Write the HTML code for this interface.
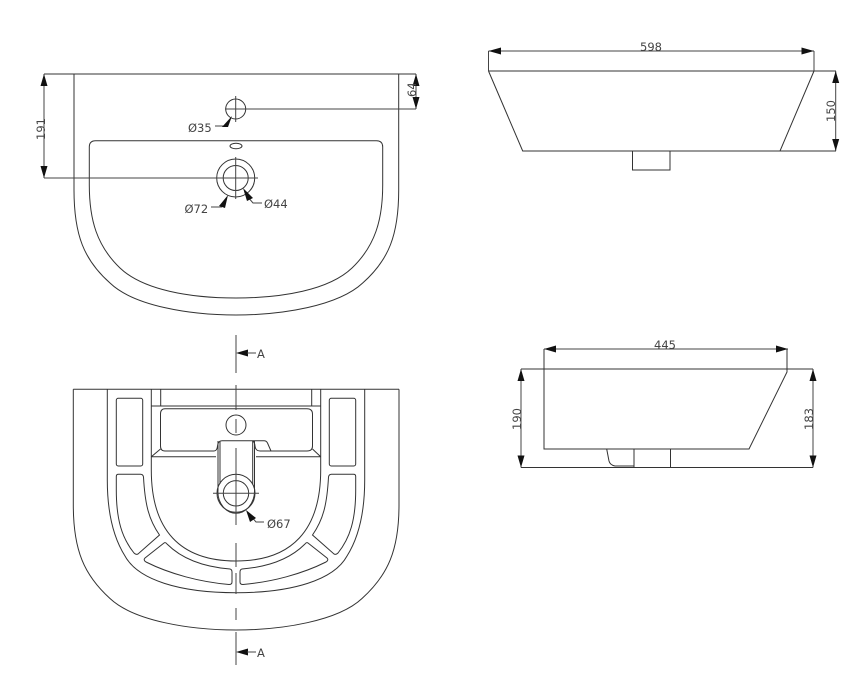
<!DOCTYPE html>
<html><head><meta charset="utf-8"><style>
html,body{margin:0;padding:0;background:#fff}
svg{display:block}
.l{fill:none;stroke:#333;stroke-width:1}
.d{fill:none;stroke:#444;stroke-width:1}
.a{fill:#111;stroke:none}
text{font-family:"DejaVu Sans",sans-serif;font-size:11.5px;fill:#444}
</style></head><body>
<svg width="866" height="681" viewBox="0 0 866 681" xmlns="http://www.w3.org/2000/svg">
<!-- TOP VIEW -->
<path class="l" d="M44 74H416"/>
<path class="l" d="M74 74V190C74 235 84 260 110 283C134 306 190 315 236 315C282 315 338 306 362.700 283C388.700 260 398.700 235 398.700 190V74"/>
<path class="l" d="M95.500 140.700H376.500Q382.700 140.700 382.700 147V185C382.700 220 375 246 352 268C329 290 282 298 236 298C190 298 143 290 120 268C97 246 89.300 220 89.300 185V147Q89.300 140.700 95.500 140.700Z"/>
<ellipse class="l" cx="236" cy="146" rx="6" ry="2.800"/>
<circle class="l" cx="235.700" cy="109" r="10"/>
<path class="d" d="M235.700 96V122M225 109H416"/>
<circle class="l" cx="235.700" cy="178" r="19"/>
<circle class="l" cx="235.700" cy="178" r="12.500"/>
<path class="d" d="M44 178H258M235.700 157V199"/>
<path class="d" d="M44 74V178M416 74V109"/>
<path class="a" d="M44 74L40.500 86H47.500ZM44 178L40.500 166H47.500ZM416 74L412.500 86H419.500ZM416 109L412.500 97H419.500Z"/>
<text transform="translate(45,140) rotate(-90)">191</text>
<text transform="translate(416,97) rotate(-90)">64</text>
<path class="d" d="M215 126H225"/>
<path class="a" d="M232 116L228 127H222Z"/>
<text x="188" y="132">Ø35</text>
<path class="d" d="M211 207H222"/>
<path class="a" d="M228 195L225 208L219 206Z"/>
<text x="184.500" y="213">Ø72</text>
<path class="d" d="M262 203H253L247 196"/>
<path class="a" d="M243 188L253 198L247 201Z"/>
<text x="264" y="208">Ø44</text>
<!-- BOTTOM VIEW -->
<path class="l" d="M73.300 389.300H399"/>
<path class="l" d="M73.300 389.300V505C73.300 550 84 575 110 598.500C134 621 190 630 236 630C282 630 338 621 362 598.500C388 575 399 550 399 505V389.300"/>
<path class="l" d="M107.300 389.300V480C107.300 510 113 537 125 556C138 580 180 592.700 236 592.700C292 592.700 334 580 347 556C359 537 364.700 510 364.700 480V389.300"/>
<path class="l" d="M151.300 389.300V470C151.300 530 180 561 236 561C292 561 320.700 530 320.700 470V389.300"/>
<path class="l" d="M160.700 389.300V406M311.700 389.300V406M151.300 406H320.700"/>
<path class="l" d="M214 451H165Q160.500 451 160.500 446V414Q160.500 408.700 165 408.700H307Q312.500 408.700 312.500 414V446Q312.500 451 307 451H271"/>
<path class="l" d="M151.300 456.700H216M256 456.700H320.700M151.300 456.700L160.500 449M320.700 456.700L312.500 449"/>
<path class="l" d="M214 451Q217 451 217.500 446Q218 440.700 222 440.700H264Q266.500 440.700 267.500 443L271 451H260Q255.500 451 255 446Q254.500 441 252 440.700"/>
<rect class="l" x="116.300" y="398.300" width="26.400" height="67.700" rx="2"/>
<path class="l" d="M118.500 474.300H140.500Q143 474.300 143.500 477C145 505 149 520 159.500 535L138 554Q136 555 134 553C122 538 116.300 520 116.300 490V476.500Q116.300 474.300 118.500 474.300Z"/>
<path class="l" d="M164 543Q165.500 542 167 544C183 560 205 567 230 569Q232 569.500 232 572V582Q232 584.500 229 584.500C200 582 170 574 146 562Q143 560 145 558Z"/>
<g transform="translate(472,0) scale(-1,1)">
<rect class="l" x="116.300" y="398.300" width="26.400" height="67.700" rx="2"/>
<path class="l" d="M118.500 474.300H140.500Q143 474.300 143.500 477C145 505 149 520 159.500 535L138 554Q136 555 134 553C122 538 116.300 520 116.300 490V476.500Q116.300 474.300 118.500 474.300Z"/>
<path class="l" d="M164 543Q165.500 542 167 544C183 560 205 567 230 569Q232 569.500 232 572V582Q232 584.500 229 584.500C200 582 170 574 146 562Q143 560 145 558Z"/>
</g>
<circle class="l" cx="236" cy="425" r="10"/>
<path class="l" d="M218 441V490M220 441V484M254.500 441V490M252.700 441V484"/>
<path class="l" d="M218 490C217 503 226 513.300 236 513.300C246 513.300 255 503 254.500 490"/>
<circle class="l" cx="236" cy="493.300" r="19"/>
<circle class="l" cx="236" cy="493.300" r="12.700"/>
<path class="d" d="M213 493.300H259"/>
<path class="d" d="M236 335V373M236 385V410M236 419V433M236 448V525M236 543V567M236 573V594M236 608V620M236 632V665"/>
<path class="a" d="M236 353L248 349.500V356.500ZM236 652L248 648.500V655.500Z"/>
<path class="d" d="M247 353H256M247 652H256"/>
<text x="257" y="358">A</text>
<text x="257" y="657">A</text>
<path class="d" d="M264 522H256L251 516"/>
<path class="a" d="M246 510L256 518L250 522Z"/>
<text x="267" y="528">Ø67</text>
<!-- SIDE VIEW 1 -->
<path class="l" d="M488.500 71H814M488.500 71L522.700 151H780L814 71"/>
<path class="l" d="M780 151H836M814 71H836"/>
<path class="l" d="M632.500 151V170H670V151"/>
<path class="d" d="M488.500 51V71M814 51V71M488.500 51H814M835.700 71V151"/>
<path class="a" d="M488.500 51L501 47.500V54.500ZM814 51L801.500 47.500V54.500ZM835.700 71L832.200 83H839.200ZM835.700 151L832.200 139H839.200Z"/>
<text x="640" y="51">598</text>
<text transform="translate(835,122) rotate(-90)">150</text>
<!-- SIDE VIEW 2 -->
<path class="l" d="M521 369H813M544 349V449H749L787 372V349"/>
<path class="l" d="M521 467.500H813"/>
<path class="l" d="M606.700 449L609 461Q610 465 615 466H634M634 449V467.500M670.500 449V467.500"/>
<path class="d" d="M544 349H788M521 369V467.500M813 369V467.500"/>
<path class="a" d="M544 349L556 345.500V352.500ZM788 349L776 345.500V352.500ZM521 369L517.500 381H524.500ZM521 467.500L517.500 455.500H524.500ZM813 369L809.500 381H816.500ZM813 467.500L809.500 455.500H816.500Z"/>
<text x="654" y="349">445</text>
<text transform="translate(521,430) rotate(-90)">190</text>
<text transform="translate(813,430) rotate(-90)">183</text>
</svg>
</body></html>
